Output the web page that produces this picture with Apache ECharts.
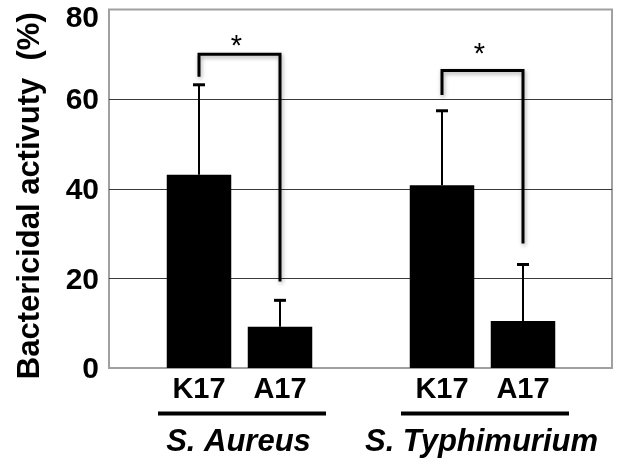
<!DOCTYPE html>
<html><head><meta charset="utf-8">
<script src="https://cdn.jsdelivr.net/npm/echarts@6/dist/echarts.min.js"></script>
<style>html,body{margin:0;padding:0;background:#fff}#c{width:621px;height:464px}</style>
</head><body><div id="c"></div>
<script>
// ---- data ----
var categories = ['K17', 'A17', '', 'K17', 'A17'];
var means      = [43.1, 9.2, null, 40.8, 10.5];
var upperErr   = [63.2, 15.1, null, 57.4, 23.1];
var yTicks     = [0, 20, 40, 60, 80];
var groupNames = ['S. Aureus', 'S. Typhimurium'];
var groupStart = [0, 3];
var groupEnd   = [1, 4];
// significance brackets: left bar idx, right bar idx, left foot, top, right foot, star level
var brLeft      = [0, 3];
var brRight     = [1, 4];
var brLeftFoot  = [65.0, 60.9];
var brTop       = [70.0, 66.4];
var brRightFoot = [19.3, 27.8];
var brStar      = [72.8, 71.0];
var yTitle = 'Bactericidal activuty  (%)';

var FONT = "'Liberation Sans', Arial, sans-serif";
var chart = echarts.init(document.getElementById('c'), null, {renderer: 'canvas'});

var errData = [];
for (var i = 0; i < means.length; i++) if (means[i] != null) errData.push([i, means[i], upperErr[i]]);
var brData = [];
for (var j = 0; j < brLeft.length; j++) brData.push([brLeft[j], brRight[j], brLeftFoot[j], brTop[j], brRightFoot[j], brStar[j]]);
var grpData = [];
for (var k = 0; k < groupNames.length; k++) grpData.push([groupStart[k], groupEnd[k]]);

var option = {
  animation: false,
  grid: [
    {left: 109, right: 9, top: 9.5, bottom: 96, show: true, borderColor: '#a0a0a0', borderWidth: 2, backgroundColor: 'transparent'},
    {left: 158.5, right: 57.5, top: 9.5, bottom: 96}
  ],
  xAxis: [
    {gridIndex: 0, type: 'value', show: false, min: 0, max: 1},
    {gridIndex: 1, type: 'category', data: categories,
     axisLine: {show: false}, axisTick: {show: false},
     axisLabel: {margin: 7, color: '#000', fontFamily: FONT, fontWeight: 'bold', fontSize: 29}}
  ],
  yAxis: [
    {gridIndex: 0, type: 'value', min: 0, max: 80, interval: 20,
     axisLine: {show: false}, axisTick: {show: false},
     splitLine: {show: true, showMinLine: false, showMaxLine: false, lineStyle: {color: '#3a3a3a', width: 1}},
     axisLabel: {margin: 10, color: '#000', fontFamily: FONT, fontWeight: 'bold', fontSize: 30,
       formatter: function (v) { return v === 80 ? '{t|' + v + '}' : '{n|' + v + '}'; },
       rich: {t: {fontFamily: FONT, fontWeight: 'bold', fontSize: 30, color: '#000', padding: [18, 0, 0, 0]},
              n: {fontFamily: FONT, fontWeight: 'bold', fontSize: 30, color: '#000', padding: [4, 0, 0, 0]}}},
     name: yTitle, nameLocation: 'middle', nameRotate: 90, nameGap: 63,
     nameTextStyle: {fontFamily: FONT, fontWeight: 'bold', fontSize: 31, color: '#000', padding: [0, 14, 0, 0]}},
    {gridIndex: 1, type: 'value', min: 0, max: 80, show: false}
  ],
  series: [
    {type: 'bar', xAxisIndex: 1, yAxisIndex: 1, data: means, barWidth: 64.5,
     itemStyle: {color: '#000'}},
    {type: 'custom', xAxisIndex: 1, yAxisIndex: 1, data: errData, z: 5,
     renderItem: function (params, api) {
       var a = api.coord([api.value(0), api.value(1)]);
       var b = api.coord([api.value(0), api.value(2)]);
       return {type: 'group', children: [
         {type: 'line', shape: {x1: a[0], y1: a[1], x2: b[0], y2: b[1]}, style: {stroke: '#000', lineWidth: 2}},
         {type: 'line', shape: {x1: b[0] - 6, y1: b[1], x2: b[0] + 6, y2: b[1]}, style: {stroke: '#000', lineWidth: 3}}
       ]};
     }},
    {type: 'custom', xAxisIndex: 1, yAxisIndex: 1, data: brData, z: 6, clip: false,
     renderItem: function (params, api) {
       var l = api.value(0), r = api.value(1);
       var p1 = api.coord([l, api.value(2)]);
       var p2 = api.coord([l, api.value(3)]);
       var p3 = api.coord([r, api.value(3)]);
       var p4 = api.coord([r, api.value(4)]);
       var sy = api.coord([l, api.value(5)])[1];
       var sx = (p2[0] + p3[0]) / 2;
       return {type: 'group', children: [
         {type: 'polyline', shape: {points: [p1, p2, p3, p4]},
          style: {stroke: '#000', lineWidth: 3, fill: null, shadowBlur: 4, shadowColor: 'rgba(0,0,0,0.35)', shadowOffsetX: 1, shadowOffsetY: 2}},
         {type: 'text', x: sx - 3, y: sy + 5,
          style: {text: '*', fontFamily: FONT, fontSize: 29, fill: '#000', align: 'center', verticalAlign: 'middle'}}
       ]};
     }},
    {type: 'custom', xAxisIndex: 1, yAxisIndex: 1, data: grpData, z: 6, clip: false,
     renderItem: function (params, api) {
       var p0 = api.coord([api.value(0), 0]);
       var p1 = api.coord([api.value(1), 0]);
       var y = p0[1];
       return {type: 'group', children: [
         {type: 'line', shape: {x1: p0[0] - 41, y1: y + 45.5, x2: p1[0] + 46, y2: y + 45.5}, style: {stroke: '#000', lineWidth: 4}},
         {type: 'text', x: (p0[0] + p1[0]) / 2 - 1, y: y + 74,
          style: {text: groupNames[params.dataIndex], fontFamily: FONT, fontWeight: 'bold', fontStyle: 'italic', fontSize: 31,
                  fill: '#000', align: 'center', verticalAlign: 'middle'}}
       ]};
     }}
  ]
};
chart.setOption(option);
</script></body></html>
